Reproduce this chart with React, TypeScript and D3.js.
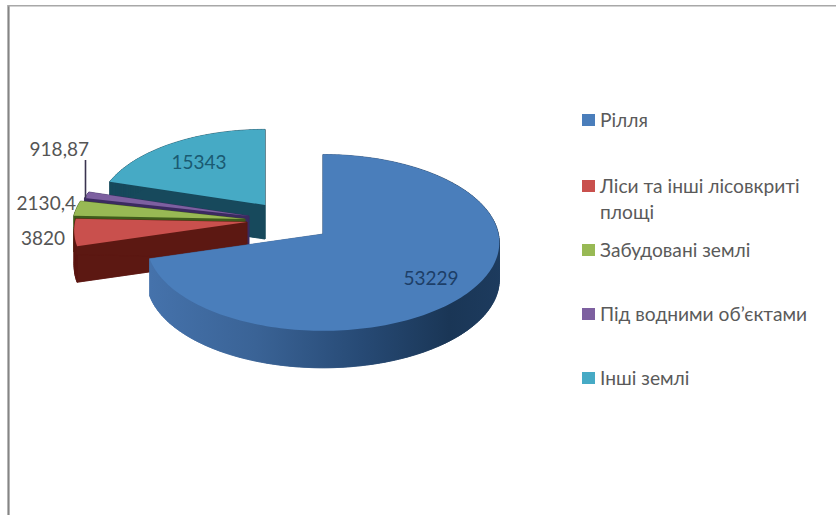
import React from "react";
import * as d3 from "d3";

// Land use by category
const categories = [
  "Рілля",
  "Ліси та інші лісовкриті площі",
  "Забудовані землі",
  "Під водними об’єктами",
  "Інші землі",
];
const values = [53229, 3820, 2130.4, 918.87, 15343];
const valueLabels = ["53229", "3820", "2130,4", "918,87", "15343"];

const topColors = ["#4a7ebb", "#c9504d", "#98b954", "#7d60a0", "#46aac5"];
const sideColors = ["url(#blueSide)", "#5c1812", "#3f5c1b", "#3b2a60", "#17495c"];

// Where each exploded slice has its tip on the page
const tips: [number, number][] = [
  [323, 234],
  [247, 222],
  [245, 219],
  [249, 216],
  [265, 205],
];
const radiusScale = [1.02, 1, 1, 1, 0.97];
const labelSpots: [number, number, string][] = [
  [431, 277, "middle"],
  [65, 237, "end"],
  [76, 202, "end"],
  [89, 148, "end"],
  [199, 161, "middle"],
];
const labelInks = ["#1d3f68", "#555555", "#555555", "#555555", "#1a5a72"];
const legendRows = [120, 186, 250, 314, 378];

const RX = 172;
const RY = 85.6;
const TILT = 0.098;
const DEPTH = [37, 36, 36, 36, 34];
// Paint back to front so the nearer slices cover the farther ones
const paintOrder = [4, 3, 2, 1, 0];

const arcs = d3
  .pie<number>()
  .sort(null)
  .value((d) => d)(values);

// Disc point at a clockwise angle from twelve o'clock, with mild perspective
function project(angle: number, radius = 1): [number, number] {
  const u = Math.sin(angle);
  const v = Math.cos(angle);
  const w = 1 + TILT * v;
  return [(radius * RX * u) / w, (-radius * RY * v) / w];
}

function outline(i: number): [number, number][] {
  const a = arcs[i];
  const [tx, ty] = tips[i];
  const steps = Math.max(4, Math.ceil((a.endAngle - a.startAngle) * 40));
  const angle = d3.scaleLinear().domain([0, steps]).range([a.startAngle, a.endAngle]);
  const rim = d3.range(steps + 1).map((s) => {
    const [x, y] = project(angle(s), radiusScale[i]);
    return [tx + x, ty + y] as [number, number];
  });
  return [[tx, ty], ...rim];
}

const closed = d3.line().curve(d3.curveLinearClosed);

// The extruded wall: one quad per outline edge, each its own shape, plus the bottom face
function sideShapes(pts: [number, number][], depth: number): string[] {
  const shift = (p: [number, number]): [number, number] => [p[0], p[1] + depth];
  const quads = pts.map((p, k) => {
    const q = pts[(k + 1) % pts.length];
    return closed([p, q, shift(q), shift(p)]) ?? "";
  });
  return [closed(pts.map(shift)) ?? "", ...quads];
}

export default function App() {
  return (
    <svg
      width={836}
      height={515}
      viewBox="0 0 836 515"
      style={{ position: "absolute", left: 0, top: 0, background: "#ffffff" }}
      fontFamily="Lato, 'Open Sans', sans-serif"
    >
      <defs>
        <linearGradient id="blueSide" gradientUnits="userSpaceOnUse" x1={150} x2={502} y1={0} y2={0}>
          <stop offset="0" stopColor="#4572ab" />
          <stop offset="0.3" stopColor="#3a6396" />
          <stop offset="0.6" stopColor="#274a75" />
          <stop offset="0.85" stopColor="#1a3656" />
          <stop offset="1" stopColor="#1d3b5e" />
        </linearGradient>
      </defs>

      <line x1={8.5} x2={8.5} y1={5} y2={515} stroke="#858585" strokeWidth={2.2} />
      <line x1={8} x2={836} y1={5.8} y2={5.8} stroke="#a8a8a8" strokeWidth={1.4} />

      {paintOrder.map((i) => {
        const pts = outline(i);
        return (
          <g key={categories[i]}>
            {sideShapes(pts, DEPTH[i]).map((d, k) => (
              <path key={k} d={d} fill={sideColors[i]} stroke={sideColors[i]} strokeWidth={0.6} />
            ))}
            <path d={closed(pts) ?? ""} fill={topColors[i]} />
          </g>
        );
      })}

      <line x1={85.5} x2={85.5} y1={160} y2={198} stroke="#3a3450" strokeWidth={1.6} />

      {valueLabels.map((label, i) => (
        <text
          key={label}
          x={labelSpots[i][0]}
          y={labelSpots[i][1]}
          textAnchor={labelSpots[i][2] as "middle" | "end"}
          dominantBaseline="central"
          fontSize={19}
          fill={labelInks[i]}
        >
          {label}
        </text>
      ))}

      {categories.map((name, i) => {
        const cy = legendRows[i];
        const wrapped = i === 1 ? ["Ліси та інші лісовкриті", "площі"] : [name];
        return (
          <g key={name}>
            <rect x={582} y={cy - 6} width={13} height={12} fill={topColors[i]} />
            {wrapped.map((line, k) => (
              <text
                key={line}
                x={600}
                y={cy - 1 + k * 26}
                dominantBaseline="central"
                fontSize={19.2}
                fill="#5a5a5a"
              >
                {line}
              </text>
            ))}
          </g>
        );
      })}
    </svg>
  );
}
